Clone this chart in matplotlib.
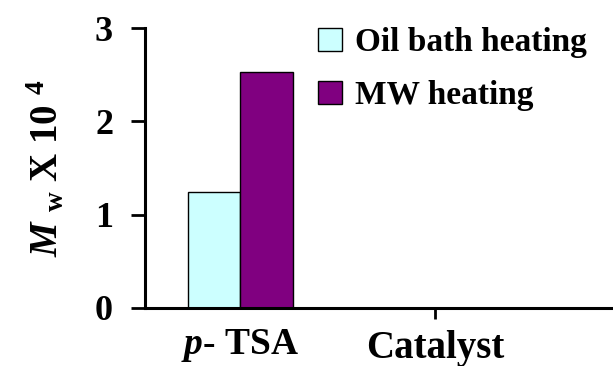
import matplotlib
matplotlib.use("Agg")
import matplotlib.pyplot as plt

categories = ["p- TSA"]
series_names = ["Oil bath heating", "MW heating"]
oil_bath = [1.24]
mw = [2.53]
colors = ["#CCFFFF", "#800080"]

plt.rcParams['font.family'] = ['Liberation Serif', 'DejaVu Serif']
plt.rcParams['mathtext.fontset'] = 'custom'
plt.rcParams['mathtext.rm'] = 'Liberation Serif:bold'
plt.rcParams['mathtext.it'] = 'Liberation Serif:bold:italic'
plt.rcParams['mathtext.bf'] = 'Liberation Serif:bold'

fig = plt.figure(figsize=(6.13, 3.66), dpi=100)
ax = fig.add_axes([145/613, 58/366, 468/613, 280/366])

x = [0.0]
w = 0.525
ax.bar([xi - w/2 for xi in x], oil_bath, width=w, color=colors[0], edgecolor="black", linewidth=1, label=series_names[0])
ax.bar([xi + w/2 for xi in x], mw, width=w, color=colors[1], edgecolor="black", linewidth=1, label=series_names[1])

ax.set_xlim(-0.95, 3.73)
ax.set_ylim(0, 3)
ax.set_yticks([0, 1, 2, 3])
ax.set_yticklabels(["0", "1", "2", "3"], fontsize=26, fontweight="bold")

ax.set_xticks([1.95])
ax.set_xticklabels(["Catalyst"], fontsize=28, fontweight="bold")
ax.tick_params(axis="x", length=8, width=2, pad=8)
ax.tick_params(axis="y", length=10, width=2, pad=13)
ax.text(0, -0.20, r"$p$- TSA", transform=ax.transData, ha="center", va="top",
        fontsize=27, fontweight="bold", clip_on=False)

for s in ["top", "right"]:
    ax.spines[s].set_visible(False)
for s in ["left", "bottom"]:
    ax.spines[s].set_linewidth(2.2)

ax.set_ylabel(r"$M$ $_{\mathrm{w}}$ X 10 $^{4}$", fontsize=28, fontweight="bold", labelpad=20)

leg = ax.legend(loc="upper left", bbox_to_anchor=(160/468, 1.05), frameon=False,
                fontsize=24, handlelength=0.7, handleheight=0.7, handletextpad=0.4,
                labelspacing=0.65, borderaxespad=0)
for t in leg.get_texts():
    t.set_fontweight("bold")

fig.savefig("out.png", dpi=100)
